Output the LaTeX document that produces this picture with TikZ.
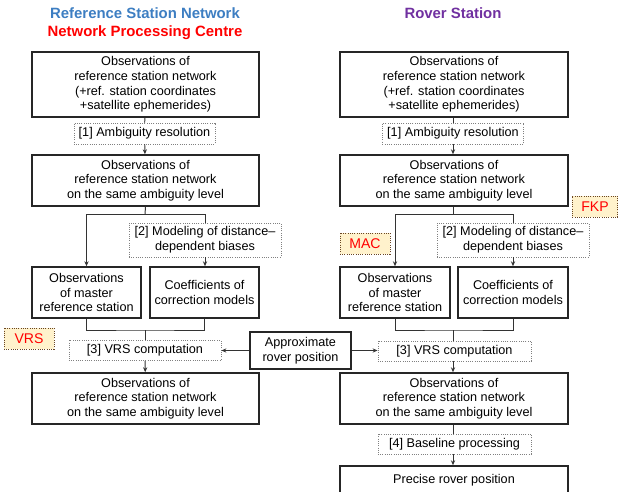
\documentclass[tikz,border=0pt]{standalone}
\usepackage{fontspec}
\setmainfont{Liberation Sans}
\usetikzlibrary{arrows.meta}

\definecolor{titleblue}{HTML}{3D7EC2}
\definecolor{titlered}{HTML}{FF0000}
\definecolor{titlepurple}{HTML}{7030A0}
\definecolor{tagfill}{HTML}{FFF2CC}

\tikzset{
  >={Stealth[length=3.5pt,width=3pt]},
  box/.style={draw=black!85, line width=1.1pt, fill=white, align=center, inner sep=1pt,
    font=\fontsize{9}{10.5}\selectfont},
  procbox/.style={draw=black!50, densely dotted, line width=0.6pt, fill=white, align=center,
    inner sep=1pt, font=\fontsize{9}{10.5}\selectfont},
  tagbox/.style={draw=black!45!brown, densely dotted, line width=0.6pt, fill=tagfill,
    text=titlered, inner sep=1pt, font=\fontsize{10}{12}\selectfont,
    minimum height=0.525cm},
  titletext/.style={font=\fontsize{10.6}{12}\selectfont\bfseries},
  link/.style={line width=0.7pt, draw=black!80},
}

\begin{document}
\begin{tikzpicture}[x=0.025cm, y=-0.025cm]

  % 枠
  \useasboundingbox (0,0) rectangle (619,492);
  \clip (0,0) rectangle (619,492);

  % 見出し
  \node[titletext, text=titleblue] (tRef) at (145,13) {Reference Station Network};
  \node[titletext, text=titlered] (tNpc) at (145,33) {Network Processing Centre};
  \node[titletext, text=titlepurple] (tRov) at (453,13) {Rover Station};

  % 左の列
  \node[box, minimum width=5.675cm, minimum height=1.625cm] (L1) at (145.5,84.5)
    {Observations of\\reference station network\\(+ref. station coordinates\\+satellite ephemerides)};
  \node[procbox, minimum width=3.525cm, minimum height=0.525cm] (P1L) at (144.5,133.5)
    {[1] Ambiguity resolution};
  \node[box, minimum width=5.675cm, minimum height=1.275cm] (L2) at (145.5,180.5)
    {Observations of\\reference station network\\on the same ambiguity level};
  \node[procbox, minimum width=3.8cm, minimum height=0.85cm] (P2L) at (205,240)
    {[2] Modeling of distance–\\dependent biases};
  \node[box, minimum width=2.725cm, minimum height=1.275cm] (L3) at (86.5,292.5)
    {Observations\\of master\\reference station};
  \node[box, minimum width=2.725cm, minimum height=1.275cm] (L4) at (204.5,292.5)
    {Coefficients of\\correction models};
  \node[procbox, minimum width=3.8cm, minimum height=0.5cm] (P3L) at (145,350.5)
    {[3] VRS computation};
  \node[box, minimum width=5.675cm, minimum height=1.275cm] (L5) at (145.5,398.5)
    {Observations of\\reference station network\\on the same ambiguity level};

  % 真ん中
  \node[box, minimum width=2.525cm, minimum height=0.925cm] (approx) at (300.5,350.5)
    {Approximate\\rover position};

  % 右の列
  \node[box, minimum width=5.7cm, minimum height=1.625cm] (R1) at (454,84.5)
    {Observations of\\reference station network\\(+ref. station coordinates\\+satellite ephemerides)};
  \node[procbox, minimum width=3.525cm, minimum height=0.525cm] (P1R) at (453,133.5)
    {[1] Ambiguity resolution};
  \node[box, minimum width=5.7cm, minimum height=1.275cm] (R2) at (454,180.5)
    {Observations of\\reference station network\\on the same ambiguity level};
  \node[procbox, minimum width=3.8cm, minimum height=0.85cm] (P2R) at (513,240)
    {[2] Modeling of distance–\\dependent biases};
  \node[box, minimum width=2.75cm, minimum height=1.275cm] (R3) at (395,292.5)
    {Observations\\of master\\reference station};
  \node[box, minimum width=2.75cm, minimum height=1.275cm] (R4) at (513,292.5)
    {Coefficients of\\correction models};
  \node[procbox, minimum width=3.825cm, minimum height=0.5cm] (P3R) at (454.5,351)
    {[3] VRS computation};
  \node[box, minimum width=5.7cm, minimum height=1.275cm] (R5) at (454,398.5)
    {Observations of\\reference station network\\on the same ambiguity level};
  \node[procbox, minimum width=3.825cm, minimum height=0.5cm] (P4R) at (454.5,444)
    {[4] Baseline processing};
  \node[box, minimum width=5.7cm, minimum height=0.7cm] (R6) at (454,480)
    {Precise rover position};

  % ラベル
  \node[tagbox, minimum width=1.25cm] (tVRS) at (29,338.5) {VRS};
  \node[tagbox, minimum width=1.25cm] (tMAC) at (365,243.5) {MAC};
  \node[tagbox, minimum width=1.125cm] (tFKP) at (595,206.5) {FKP};

  % 分岐と合流の点
  \coordinate (sL) at (145,214);
  \coordinate (jL) at (145,330);
  \coordinate (sR) at (453,214);
  \coordinate (jR) at (453,330);

  % 左の矢印
  \draw[link] (L1) -- (P1L);
  \draw[link, ->] (P1L) -- (L2);
  \draw[link] (L2.south) -- (sL);
  \draw[link, ->] (sL) -| (L3.north);
  \draw[link] (sL) -| (P2L.north);
  \draw[link, ->] (P2L) -- (P2L |- L4.north);
  \draw[link] (L3.south) |- (jL) -| (L4.south);
  \draw[link] (jL) -- (P3L.north);
  \draw[link, ->] (P3L) -- (L5);

  % 右の矢印
  \draw[link] (R1.south -| P1R) -- (P1R);
  \draw[link, ->] (P1R) -- (P1R |- R2.north);
  \draw[link] (sR |- R2.south) -- (sR);
  \draw[link, ->] (sR) -| (R3.north);
  \draw[link] (sR) -| (P2R.north);
  \draw[link, ->] (P2R) -- (P2R |- R4.north);
  \draw[link] (R3.south) |- (jR) -| (R4.south);
  \draw[link] (jR) -- (jR |- P3R.north);
  \draw[link, ->] (P3R.south -| jR) -- (jR |- R5.north);
  \draw[link] (R5.south -| jR) -- (jR |- P4R.north);
  \draw[link, ->] (P4R.south -| jR) -- (jR |- R6.north);

  % 概略位置から
  \draw[link, ->] (approx) -- (P3L);
  \draw[link, ->] (approx) -- (P3R.west |- approx);

\end{tikzpicture}
\end{document}
